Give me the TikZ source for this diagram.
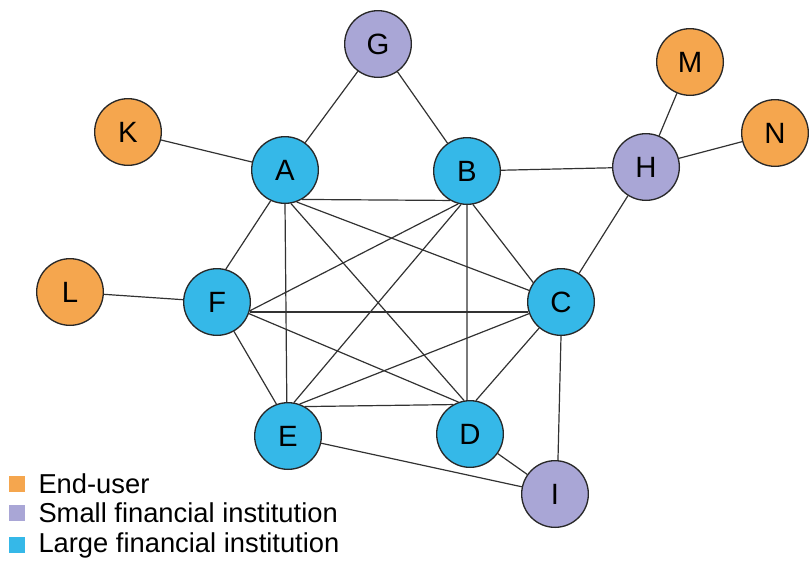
\documentclass[tikz,border=0pt]{standalone}
\usepackage{fontspec}
\setmainfont{Liberation Sans}
\usepackage{tikz}
\usepackage{xcolor}
\usetikzlibrary{backgrounds}
\definecolor{enduser}{RGB}{245,166,78}
\definecolor{smallfi}{RGB}{169,166,214}
\definecolor{largefi}{RGB}{53,184,232}
\tikzset{every picture/.style={line width=0.75pt}}
\tikzset{
  inst/.style={circle, draw={rgb, 255:red, 40; green, 40; blue, 40}, line width=1pt, minimum size=50pt, inner sep=0pt, font=\fontsize{22}{24}\selectfont},
  enduse/.style={inst, fill=enduser},
  smallinst/.style={inst, fill=smallfi},
  largeinst/.style={inst, fill=largefi},
  link/.style={draw={rgb, 255:red, 50; green, 50; blue, 50}, line width=0.9pt},
  keybox/.style={minimum size=12.5pt, inner sep=0pt},
  keytext/.style={anchor=west, inner sep=0pt, font=\fontsize{20.5}{23}\selectfont}
}

\begin{document}
\begin{tikzpicture}[x=0.75pt,y=0.75pt,yscale=-1,xscale=1]
\useasboundingbox (0,0) rectangle (809,561);

% Small financial institutions
\node [smallinst] (G) at (378,44) {G};
\node [smallinst] (H) at (646,167) {H};
\node [smallinst] (I) at (555,494) {I};
% End-users
\node [enduse] (K) at (128,132) {K};
\node [enduse] (M) at (690,62) {M};
\node [enduse] (N) at (775,133) {N};
\node [enduse] (L) at (70,292) {L};
% Large financial institutions
\node [largeinst] (A) at (285,170) {A};
\node [largeinst] (B) at (467,171) {B};
\node [largeinst] (C) at (561,302) {C};
\node [largeinst] (D) at (470,434) {D};
\node [largeinst] (E) at (288,436) {E};
\node [largeinst] (F) at (217,302) {F};

\begin{scope}[on background layer]
% Links to the outer nodes
\foreach \a/\b in {K/A, G/A, G/B, B/H, H/M, H/N, H/C, L/F, E/I, D/I}
  \path [link] (\a) -- (\b);
\path [link] (C.-90) -- (I.85);
% Links between the large institutions
\foreach \a/\b in {A.-60/B.-120, A.-115/F.75, A.-90/E.92, A.-80/D.100, A.-70/C.160,
  B.-105/F.-15, B.-100/E.80, B.-90/D.95, B.-80/C.145,
  C.-163/F.-17, C.-160/E.70, C.-130/D.80,
  D.120/E.60, D.110/F.-20, E.110/F.-60}
  \path [link] (\a) -- (\b);
\end{scope}

% Legend
\node [keybox, fill=enduser] (k1) at (17,484) {};
\node [keytext] (t1) at (38,484) {End-user};
\node [keybox, fill=smallfi] (k2) at (17,513) {};
\node [keytext] (t2) at (38,513) {Small financial institution};
\node [keybox, fill=largefi] (k3) at (17,545) {};
\node [keytext] (t3) at (38,545) {Large financial institution};

\end{tikzpicture}
\end{document}
